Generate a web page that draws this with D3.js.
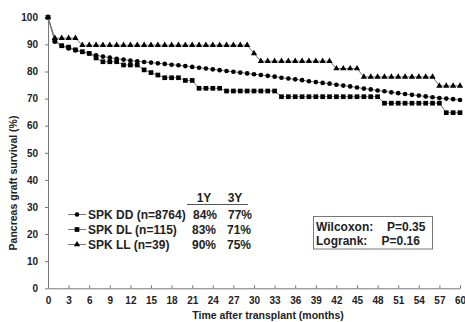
<!DOCTYPE html>
<html>
<head>
<meta charset="utf-8">
<script src="https://cdn.jsdelivr.net/npm/d3@7"></script>
<style>
  html, body { margin: 0; padding: 0; background: #fff; }
  svg { display: block; font-family: "Liberation Sans", Arial, sans-serif; }
  .axis path, .axis line { stroke: #777; }
  .axis text { font-size: 10px; font-weight: bold; fill: #222; }
</style>
</head>
<body>
<svg id="chart" width="465" height="322"></svg>
<script>
// months 0..60, one marker per month
const months = d3.range(0, 61);
const xTicks = d3.range(0, 61, 3);
const yTicks = d3.range(0, 101, 10);

const seriesNames = ['SPK DD (n=8764)', 'SPK DL (n=115)', 'SPK LL (n=39)'];
const oneYear = ['84%', '83%', '90%'];
const threeYear = ['77%', '71%', '75%'];

const dd = [100, 91.0, 89.5, 88.5, 87.8, 87.2, 86.6, 86.0, 85.5, 85.1,
  84.7, 84.4, 84.0, 83.8, 83.5, 83.3, 83.0, 82.8, 82.5, 82.3,
  82.0, 81.7, 81.4, 81.1, 80.8, 80.5, 80.2, 79.9, 79.6, 79.3,
  79.0, 78.7, 78.4, 78.1, 77.7, 77.4, 77.1, 76.8, 76.4, 76.1,
  75.8, 75.5, 75.1, 74.8, 74.5, 74.1, 73.7, 73.4, 73.0, 72.7,
  72.3, 72.0, 71.7, 71.4, 71.1, 70.8, 70.5, 70.2, 70.0, 69.8, 69.5];

const dl = [100, 91.5, 89.5, 89.0, 88.0, 87.3, 86.7, 85.0, 83.6, 83.6,
  83.6, 82.4, 82.4, 82.4, 80.6, 79.6, 78.7, 77.7, 77.7, 77.7,
  76.7, 76.7, 73.8, 73.8, 73.8, 73.8, 72.8, 72.8, 72.8, 72.8,
  72.8, 72.8, 72.8, 72.8, 70.7, 70.7, 70.7, 70.7, 70.7, 70.7,
  70.7, 70.7, 70.7, 70.7, 70.7, 70.7, 70.7, 70.7, 70.7, 68.3,
  68.3, 68.3, 68.3, 68.3, 68.3, 68.3, 68.3, 68.3, 64.8, 64.8, 64.8];

const ll = [100, 92.3, 92.3, 92.3, 92.3, 89.7, 89.7, 89.7, 89.7, 89.7,
  89.7, 89.7, 89.7, 89.7, 89.7, 89.7, 89.7, 89.7, 89.7, 89.7,
  89.7, 89.7, 89.7, 89.7, 89.7, 89.7, 89.7, 89.7, 89.7, 89.7,
  86.7, 83.8, 83.8, 83.8, 83.8, 83.8, 83.8, 83.8, 83.8, 83.8,
  83.8, 83.8, 81.1, 81.1, 81.1, 81.1, 78.0, 78.0, 78.0, 78.0,
  78.0, 78.0, 78.0, 78.0, 78.0, 78.0, 78.0, 74.7, 74.7, 74.7, 74.7];

const svg = d3.select('#chart');
const x = d3.scaleLinear().domain([0, 60]).range([48, 460]);
const y = d3.scaleLinear().domain([0, 100]).range([288.3, 17.3]);

svg.append('g').attr('class', 'axis').attr('transform', 'translate(0,288.3)')
  .call(d3.axisBottom(x).tickValues(xTicks).tickSizeInner(-3).tickSizeOuter(0).tickPadding(9));
svg.append('g').attr('class', 'axis').attr('transform', 'translate(48,0)')
  .call(d3.axisLeft(y).tickValues(yTicks).tickSize(3).tickSizeOuter(0).tickPadding(7));

const symbols = [d3.symbolCircle, d3.symbolSquare, d3.symbolTriangle];
const sizes = [17, 22, 17];
const line = d3.line().x((d, i) => x(months[i])).y(d => y(d));

[dd, dl, ll].forEach((values, k) => {
  svg.append('path').attr('d', line(values)).attr('fill', 'none').attr('stroke', '#777').attr('stroke-width', 1);
  svg.append('g').selectAll('path').data(values).join('path')
    .attr('transform', (d, i) => `translate(${x(months[i])},${y(d)})`)
    .attr('d', d3.symbol(symbols[k], sizes[k]))
    .attr('fill', '#000');
});

// legend
const rowY = [214.5, 229.5, 244.5];
const legend = svg.append('g');
seriesNames.forEach((name, k) => {
  legend.append('line').attr('x1', 68).attr('x2', 86).attr('y1', rowY[k]).attr('y2', rowY[k]).attr('stroke', '#777');
  legend.append('path').attr('transform', `translate(77,${rowY[k]})`).attr('d', d3.symbol(symbols[k], sizes[k])).attr('fill', '#000');
  legend.append('text').attr('x', 88).attr('y', rowY[k] + 4.3).text(name);
  legend.append('text').attr('x', k === 0 ? 193 : 192).attr('y', rowY[k] + 4.3).text(oneYear[k]);
  legend.append('text').attr('x', k === 0 ? 228 : 227).attr('y', rowY[k] + 4.3).text(threeYear[k]);
});
legend.append('text').attr('x', 204).attr('y', 202).attr('text-anchor', 'middle').text('1Y');
legend.append('text').attr('x', 235).attr('y', 202).attr('text-anchor', 'middle').text('3Y');
legend.append('line').attr('x1', 187).attr('x2', 248).attr('y1', 204.5).attr('y2', 204.5).attr('stroke', '#555');
legend.selectAll('text').attr('font-size', 12).attr('font-weight', 'bold').attr('fill', '#222');

// p-value box
const box = svg.append('g');
box.append('rect').attr('x', 313.5).attr('y', 216.5).attr('width', 119).attr('height', 32.5)
  .attr('fill', '#fff').attr('stroke', '#777');
box.append('text').attr('x', 316).attr('y', 230.5).text('Wilcoxon:');
box.append('text').attr('x', 387).attr('y', 230.5).text('P=0.35');
box.append('text').attr('x', 316).attr('y', 244.5).text('Logrank:');
box.append('text').attr('x', 381.5).attr('y', 244.5).text('P=0.16');
box.selectAll('text').attr('font-size', 12).attr('font-weight', 'bold').attr('fill', '#222');

// axis titles
svg.append('text').attr('transform', 'translate(17,183) rotate(-90)').attr('text-anchor', 'middle')
  .attr('font-size', 10.5).attr('font-weight', 'bold').attr('fill', '#222').text('Pancreas graft survival (%)');
svg.append('text').attr('x', 268).attr('y', 319).attr('text-anchor', 'middle')
  .attr('font-size', 10.5).attr('font-weight', 'bold').attr('fill', '#222').text('Time after transplant (months)');
</script>
</body>
</html>
